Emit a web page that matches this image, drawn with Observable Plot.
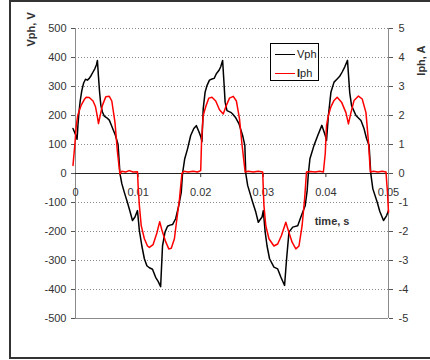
<!DOCTYPE html>
<html><head><meta charset="utf-8">
<script src="https://cdn.jsdelivr.net/npm/d3@7"></script>
<script src="https://cdn.jsdelivr.net/npm/@observablehq/plot@0.6"></script>
<style>
body{margin:0;background:#fff;}
#wrap{position:relative;width:430px;height:360px;overflow:hidden;font-family:"Liberation Sans",Arial,sans-serif;}
#frame{position:absolute;left:9px;top:0px;width:450px;height:359px;border:2px solid #333;box-sizing:border-box;pointer-events:none;}
#legend{position:absolute;left:270px;top:43px;width:49px;height:38px;border:1px solid #000;background:#fff;box-sizing:border-box;font-size:11px;color:#222;}
#legend .ln{position:absolute;left:4px;width:20px;height:0;border-top:1.5px solid #000;}
#legend .tx{position:absolute;left:26px;line-height:12px;}
</style></head>
<body><div id="wrap"><div id="chart"></div><div id="frame"></div>
<div id="legend">
<div class="ln" style="top:10px;border-color:#000"></div><div class="tx" style="top:4px">Vph</div>
<div class="ln" style="top:29px;border-color:#f00"></div><div class="tx" style="top:23px"><b>I</b>ph</div>
</div></div>
<script>
// time in milliseconds, Vph in volts
const vTimeMs = [-0.4,-0.2,0,0.25,0.4,0.55,0.75,1.0,1.3,1.6,1.9,2.2,2.5,2.8,3.1,3.35,3.5,3.65,3.85,4.05,4.3,4.6,5.0,5.4,5.7,6.0,6.4,6.8,6.95,7.1,7.4,7.8,8.3,8.7,9.1,9.5,9.9,10.2,10.6,11.0,11.4,11.8,12.3,12.8,13.2,13.6,13.9,14.3,14.7,15.1,15.5,16.0,16.5,16.9,17.1,17.45,17.9,18.4,18.9,19.3,19.7,20.0,20.2,20.4,20.7,21.0,21.4,21.8,22.15,22.5,22.9,23.2,23.5,23.7,23.9,24.2,24.8,25.1,25.6,26.1,26.7,27.05,27.2,27.5,28.3,28.8,29.2,29.8,30.0,30.3,30.6,31.0,31.7,32.3,32.8,33.4,33.7,34.1,34.7,35.5,36.0,36.7,37.0,37.2,37.45,38.1,38.7,39.35,39.9,40.1,40.4,40.8,41.3,41.8,42.2,42.6,43.0,43.45,43.8,44.1,44.8,45.6,46.1,46.5,46.9,47.17,47.5,48.2,48.6,49.2,49.7,50.0];
const vph = [155,145,135,118,170,210,250,285,312,325,322,328,338,350,362,375,390,340,280,235,212,198,192,184,168,152,130,100,50,0,-35,-65,-100,-130,-162,-150,-128,-196,-250,-294,-318,-325,-330,-358,-372,-390,-250,-202,-182,-178,-176,-156,-110,-64,0,51,85,131,155,165,145,128,110,223,280,303,322,326,328,344,355,368,390,320,246,217,211,205,192,172,131,97,0,-41,-99,-133,-168,-150,-128,-202,-250,-294,-323,-329,-357,-386,-300,-202,-185,-180,-150,-110,-60,0,51,97,131,166,131,114,200,280,315,326,335,350,367,390,280,234,200,183,154,120,97,0,-53,-99,-130,-162,-145,-128];
// time in milliseconds, Iph in amperes
const iTimeMs = [-0.4,-0.1,0.1,0.35,0.9,1.4,1.7,2.2,2.8,3.2,3.5,3.67,3.9,4.3,4.85,5.4,5.8,6.3,6.7,7.1,7.4,8.0,8.6,9.2,9.9,10.0,10.2,10.5,11.0,11.5,11.8,12.4,13.0,13.45,13.8,14.4,14.9,15.3,15.8,16.2,16.6,17.0,17.3,18.0,18.8,19.5,20.0,20.15,20.4,20.8,21.3,21.8,22.4,23.0,23.6,24.1,24.6,25.2,25.7,26.2,26.6,27.1,27.6,28.4,29.2,29.9,30.1,30.4,30.9,31.7,32.3,32.9,33.6,33.9,34.6,35.2,35.7,36.2,36.6,36.9,37.5,38.3,39.0,39.6,39.9,40.1,40.4,40.8,41.3,41.8,42.5,43.2,43.6,44.0,44.5,45.2,45.8,46.4,46.8,47.1,47.6,48.3,49.0,49.6,49.85,50.0];
const iph = [0.28,1.0,1.6,2.0,2.35,2.55,2.63,2.62,2.5,2.3,1.95,1.72,1.95,2.35,2.65,2.66,2.5,1.77,0.74,-0.02,0.08,0.05,0.1,0.05,0.06,-0.4,-1.1,-1.8,-2.25,-2.5,-2.55,-2.45,-2.05,-1.66,-1.95,-2.35,-2.6,-2.58,-2.25,-1.56,-0.9,0.0,0.08,0.05,0.08,0.05,0.1,1.2,2.0,2.3,2.6,2.63,2.5,2.2,2.05,2.35,2.6,2.66,2.5,1.88,1.0,0.05,0.08,0.05,0.08,0.05,-1.1,-1.8,-2.25,-2.5,-2.43,-2.14,-1.68,-1.9,-2.37,-2.6,-2.5,-1.8,-0.87,0.05,0.07,0.05,0.08,0.05,0.7,1.66,2.0,2.3,2.52,2.63,2.46,2.1,1.71,2.1,2.52,2.67,2.57,2.1,1.08,0.05,0.08,0.05,0.08,0.05,-0.7,-1.35];
const xTicks = [0, 0.01, 0.02, 0.03, 0.04, 0.05];
const vTicks = [-500,-400,-300,-200,-100,0,100,200,300,400,500];
const ampsPerVolt = 5 / 500; // right axis: 5 A at the same height as 500 V

const vData = vTimeMs.map((t, i) => ({t: t / 1000, v: vph[i]}));
const iData = iTimeMs.map((t, i) => ({t: t / 1000, v: iph[i] / ampsPerVolt}));

const chart = Plot.plot({
  width: 430, height: 360,
  marginLeft: 75, marginRight: 42, marginTop: 28, marginBottom: 42,
  x: {domain: [0, 0.05], axis: null},
  y: {domain: [-500, 500], axis: null},
  style: {fontFamily: '"Liberation Sans", Arial, sans-serif', fontSize: "11px", color: "#333", background: "transparent", overflow: "visible"},
  marks: [
    Plot.ruleY(vTicks.filter(d => d !== 0 && d !== -500), {stroke: "#8a8a8a", strokeDasharray: "1,2", strokeWidth: 1}),
    Plot.ruleY([-500], {stroke: "#8a8a8a"}),
    Plot.ruleX([0, 0.05], {stroke: "#8a8a8a"}),
    Plot.axisY({anchor: "left", ticks: vTicks, tickSize: 4, tickPadding: 5, tickFormat: d => String(d), label: null, stroke: "#555"}),
    Plot.axisY({anchor: "right", ticks: vTicks, tickSize: 4, tickPadding: 6, tickFormat: d => String(Math.round(d * ampsPerVolt)), label: null, stroke: "#555"}),
    Plot.ruleY([0], {stroke: "#222"}),
    Plot.ruleX(xTicks.slice(1, -1), {x: d => d, y1: 0, y2: -14, stroke: "#333"}),
    Plot.text(xTicks, {x: d => d, y: 0, dy: 19, text: d => String(d), fill: "#333"}),
    Plot.line(vData, {x: "t", y: "v", stroke: "#000", strokeWidth: 1.5}),
    Plot.line(iData, {x: "t", y: "v", stroke: "#ff0000", strokeWidth: 1.5}),
    Plot.text(["time, s"], {frameAnchor: "top-right", dx: -39, dy: 189, fontWeight: "bold", fill: "#333"}),
    Plot.text(["Vph, V"], {frameAnchor: "top-left", dx: -48, dy: 18, rotate: -90, fontWeight: "bold", fill: "#333"}),
    Plot.text(["Iph, A"], {frameAnchor: "top-right", dx: 28.5, dy: 17, rotate: -90, fontWeight: "bold", fill: "#333"})
  ]
});
document.getElementById("chart").append(chart);
</script>
</body></html>
